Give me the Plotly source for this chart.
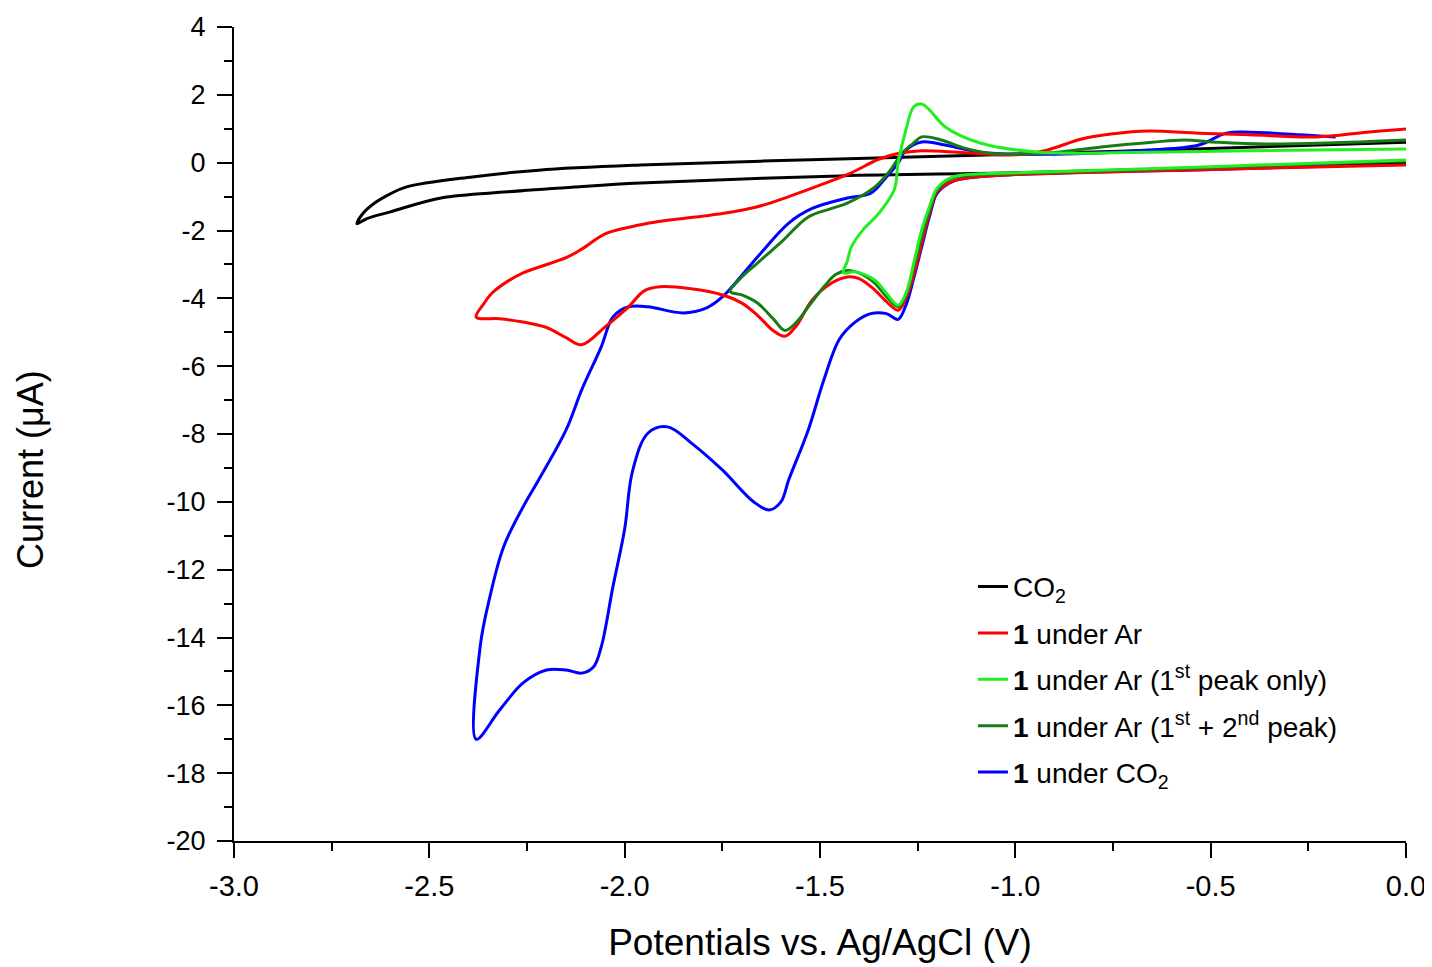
import plotly.graph_objects as go

# ---------------- data ----------------
x_co2 = [0.0, -0.5, -1.0, -1.45, -1.96, -2.13, -2.30, -2.47, -2.60, -2.66, -2.685,
         -2.67, -2.64, -2.60, -2.56, -2.39, -2.22, -1.96, -1.45, -1.0, -0.5, 0.0]
y_co2 = [-0.02, -0.15, -0.30, -0.39, -0.60, -0.72, -0.86, -1.04, -1.45, -1.65, -1.80,
         -1.50, -1.19, -0.92, -0.72, -0.42, -0.22, -0.07, 0.11, 0.25, 0.42, 0.60]

x_ar = [0.0, -0.5, -1.0, -1.1, -1.16, -1.2, -1.22, -1.24, -1.26, -1.28, -1.30, -1.33, -1.36,
        -1.40, -1.43, -1.47, -1.52, -1.56, -1.59, -1.62, -1.66, -1.70, -1.75, -1.83, -1.91,
        -1.95, -1.99, -2.05, -2.11, -2.15, -2.20, -2.26, -2.32, -2.38,
        -2.36, -2.34, -2.30, -2.26, -2.15, -2.11, -2.05, -1.98, -1.92, -1.75, -1.66, -1.58,
        -1.49, -1.42, -1.35, -1.30, -1.24, -1.13, -1.0, -0.92, -0.83, -0.75, -0.66, -0.53,
        -0.40, -0.23, -0.10, 0.0]
y_ar = [-0.07, -0.2, -0.35, -0.42, -0.55, -0.85, -1.5, -2.4, -3.3, -4.0, -4.35, -4.1, -3.75,
        -3.42, -3.37, -3.55, -4.05, -4.8, -5.12, -4.95, -4.5, -4.14, -3.9, -3.72, -3.66,
        -3.78, -4.25, -4.84, -5.37, -5.16, -4.86, -4.7, -4.6, -4.55,
        -4.15, -3.85, -3.5, -3.25, -2.8, -2.55, -2.1, -1.88, -1.75, -1.5, -1.3, -1.0,
        -0.62, -0.3, 0.1, 0.27, 0.35, 0.29, 0.23, 0.37, 0.70, 0.85, 0.93, 0.87,
        0.82, 0.76, 0.9, 0.99]

x_ar1 = [0.0, -0.5, -1.0, -1.09, -1.16, -1.20, -1.22, -1.24, -1.26, -1.28, -1.30, -1.33,
         -1.36, -1.41, -1.44,
         -1.43, -1.42, -1.39, -1.35, -1.31, -1.30, -1.28, -1.26, -1.24, -1.22, -1.18, -1.09,
         -0.94, -0.7, -0.4, 0.0]
y_ar1 = [0.08, -0.12, -0.3, -0.33, -0.42, -0.75, -1.3, -2.0, -2.96, -3.85, -4.2, -3.85,
         -3.46, -3.22, -3.25,
         -2.9, -2.49, -1.98, -1.5, -0.8, 0.0, 0.97, 1.65, 1.73, 1.56, 1.06, 0.58,
         0.31, 0.3, 0.35, 0.40]

x_ar12 = [0.0, -0.5, -1.0, -1.1, -1.16, -1.20, -1.22, -1.24, -1.26, -1.28, -1.30, -1.33,
          -1.36, -1.40, -1.43, -1.46, -1.49, -1.53, -1.56, -1.59, -1.62, -1.66, -1.70, -1.73,
          -1.70, -1.66, -1.60, -1.53, -1.47, -1.43, -1.36, -1.32, -1.29, -1.26, -1.24, -1.19,
          -1.13, -1.05, -0.9, -0.78, -0.65, -0.57, -0.48, -0.36, -0.2, 0.0]
y_ar12 = [0.05, -0.14, -0.32, -0.36, -0.45, -0.8, -1.4, -2.2, -3.1, -3.9, -4.25, -3.95,
          -3.55, -3.25, -3.18, -3.3, -3.66, -4.25, -4.7, -4.95, -4.6, -4.14, -3.9, -3.8,
          -3.37, -2.96, -2.35, -1.6, -1.35, -1.19, -0.72, -0.22, 0.28, 0.58, 0.76, 0.67,
          0.43, 0.26, 0.3, 0.46, 0.6, 0.67, 0.6, 0.55, 0.58, 0.67]

x_1co2 = [-0.18, -0.5, -1.0, -1.1, -1.16, -1.2, -1.22, -1.24, -1.26, -1.28, -1.30, -1.33,
          -1.37, -1.41, -1.45, -1.49, -1.53, -1.58, -1.60, -1.63, -1.67, -1.75, -1.83, -1.89,
          -1.94, -1.98, -2.00, -2.03, -2.06, -2.08, -2.11, -2.15, -2.20, -2.26, -2.32, -2.38,
          -2.37, -2.345, -2.31, -2.26, -2.22, -2.15, -2.11, -2.06, -2.03, -1.99, -1.94, -1.85,
          -1.79, -1.75, -1.66, -1.58, -1.52, -1.43, -1.37, -1.33, -1.30, -1.28, -1.24, -1.18,
          -1.09, -0.9, -0.66, -0.53, -0.46, -0.40, -0.27, -0.18]
y_1co2 = [-0.1, -0.2, -0.35, -0.42, -0.55, -0.9, -1.6, -2.5, -3.4, -4.2, -4.62, -4.45,
          -4.45, -4.7, -5.2, -6.4, -7.88, -9.35, -10.0, -10.24, -10.0, -9.06, -8.26, -7.79,
          -7.97, -9.1, -10.8, -12.5, -14.28, -14.87, -15.05, -14.96, -14.96, -15.34, -16.14, -17.0,
          -14.28, -12.8, -11.33, -10.15, -9.35, -7.88, -6.7, -5.43, -4.55, -4.25, -4.25, -4.43,
          -4.28, -3.96, -2.78, -1.78, -1.35, -1.04, -0.9, -0.42, -0.01, 0.37, 0.61, 0.52,
          0.31, 0.25, 0.37, 0.52, 0.87, 0.90, 0.82, 0.76]

names = ["CO<sub>2</sub>",
         "<b>1</b> under Ar",
         "<b>1</b> under Ar (1<sup>st</sup> peak only)",
         "<b>1</b> under Ar (1<sup>st</sup> + 2<sup>nd</sup> peak)",
         "<b>1</b> under CO<sub>2</sub>"]
colors = ["#000000", "#ff0000", "#22ee22", "#167d16", "#0000ff"]

x_tickvals = [-3.0, -2.5, -2.0, -1.5, -1.0, -0.5, 0.0]
x_ticktext = ["-3.0", "-2.5", "-2.0", "-1.5", "-1.0", "-0.5", "0.0"]
y_tickvals = [-20, -18, -16, -14, -12, -10, -8, -6, -4, -2, 0, 2, 4]
y_ticktext = ["-20", "-18", "-16", "-14", "-12", "-10", "-8", "-6", "-4", "-2", "0", "2", "4"]

x_title = "Potentials vs. Ag/AgCl (V)"
y_title = "Current (μA)"

# ---------------- figure ----------------
series = [(x_co2, y_co2, 0), (x_1co2, y_1co2, 4), (x_ar, y_ar, 1),
          (x_ar12, y_ar12, 3), (x_ar1, y_ar1, 2)]

fig = go.Figure()
for xs, ys, i in series:
    fig.add_trace(go.Scatter(
        x=xs, y=ys, mode="lines", name=names[i], legendrank=i + 1,
        legendgroup="g%d" % i,
        line=dict(color=colors[i], width=3, shape="spline", smoothing=1.0),
    ))

# the page body has an 8px margin: the figure is offset by it
font_family = "Liberation Sans, Arial, sans-serif"
W, H = 1424, 959
ML, MR, MT, MB = 226, 26, 19, 126
PW, PH = W - ML - MR, H - MT - MB
fig.update_layout(
    width=W, height=H,
    margin=dict(l=ML, r=MR, t=MT, b=MB),
    paper_bgcolor="white", plot_bgcolor="white",
    font=dict(family=font_family, color="black", size=28),
    showlegend=True,
    legend=dict(x=0.6305, y=0.343, xanchor="left", yanchor="top",
                bgcolor="rgba(0,0,0,0)", font=dict(size=28), tracegroupgap=7,
                itemwidth=30),
    annotations=[dict(text=y_title, textangle=-90, xref="paper", yref="paper",
                      x=(30 - 8 - ML) / PW, y=1 - (470 - 8 - MT) / PH,
                      xanchor="center", yanchor="middle", showarrow=False,
                      font=dict(size=36))],
)
fig.update_xaxes(
    range=[-3.0, 0.0], tickvals=x_tickvals, ticktext=x_ticktext, automargin=False,
    showline=True, linecolor="black", linewidth=2, showgrid=False, zeroline=False,
    ticks="outside", ticklen=15, tickwidth=2, tickcolor="black", ticklabelstandoff=3,
    minor=dict(ticks="outside", ticklen=8, tickwidth=2, tickcolor="black", dtick=0.25,
               tick0=0, showgrid=False),
    tickfont=dict(size=29),
    title=dict(text=x_title, font=dict(size=37), standoff=28),
)
fig.update_yaxes(
    range=[-20, 4], tickvals=y_tickvals, ticktext=y_ticktext, automargin=False,
    showline=True, linecolor="black", linewidth=2, showgrid=False, zeroline=False,
    ticks="outside", ticklen=15, tickwidth=2, tickcolor="black", ticklabelstandoff=6,
    minor=dict(ticks="outside", ticklen=8, tickwidth=2, tickcolor="black", dtick=1,
               tick0=0, showgrid=False),
    tickfont=dict(size=27),
)

fig.write_html("out.html")
